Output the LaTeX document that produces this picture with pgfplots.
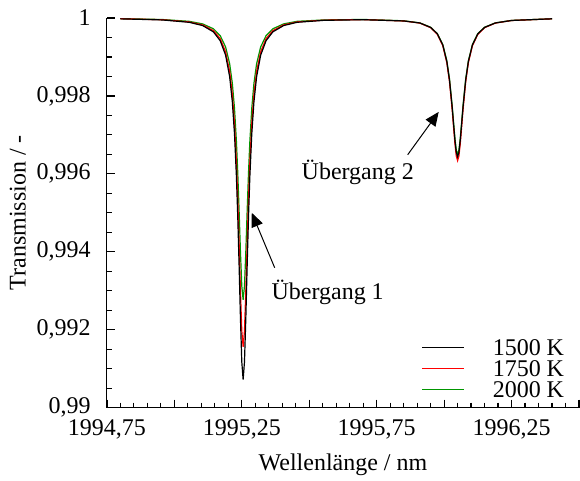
\documentclass[border=0pt]{standalone}
\usepackage{fontspec}
\setmainfont{Liberation Serif}
\usepackage{pgfplots}
\pgfplotsset{compat=1.18}
\usepackage{pgfplotstable}
\usetikzlibrary{arrows.meta}
\definecolor{cgreen}{RGB}{0,150,0}
\definecolor{cred}{RGB}{255,0,0}

\pgfplotstableread{
x b r g
1994.800 0.999978 0.999980 0.999983
1994.955 0.999950 0.999955 0.999961
1995.055 0.999889 0.999899 0.999914
1995.105 0.999805 0.999822 0.999848
1995.145 0.999643 0.999675 0.999722
1995.170 0.999417 0.999470 0.999546
1995.190 0.999046 0.999132 0.999257
1995.205 0.998495 0.998631 0.998827
1995.215 0.997845 0.998040 0.998321
1995.223 0.997022 0.997291 0.997680
1995.230 0.995950 0.996317 0.996845
1995.235 0.994919 0.995379 0.996041
1995.240 0.993665 0.994239 0.995065
1995.245 0.992309 0.993005 0.994008
1995.250 0.991176 0.991974 0.993125
1995.255 0.990720 0.991560 0.992770
1995.260 0.991176 0.991974 0.993125
1995.265 0.992309 0.993005 0.994008
1995.270 0.993665 0.994239 0.995065
1995.275 0.994919 0.995379 0.996041
1995.280 0.995950 0.996317 0.996845
1995.287 0.997022 0.997291 0.997680
1995.295 0.997845 0.998040 0.998321
1995.305 0.998495 0.998631 0.998827
1995.320 0.999046 0.999132 0.999257
1995.340 0.999417 0.999470 0.999546
1995.365 0.999643 0.999675 0.999722
1995.405 0.999805 0.999822 0.999848
1995.455 0.999889 0.999899 0.999914
1995.555 0.999940 0.999944 0.999950
1995.700 0.999956 0.999958 0.999962
1995.850 0.999924 0.999923 0.999928
1995.910 0.999872 0.999869 0.999874
1995.950 0.999758 0.999751 0.999762
1995.975 0.999592 0.999580 0.999598
1995.995 0.999309 0.999289 0.999320
1996.010 0.998886 0.998854 0.998904
1996.020 0.998407 0.998362 0.998434
1996.030 0.997701 0.997637 0.997740
1996.035 0.997280 0.997203 0.997325
1996.040 0.996870 0.996782 0.996922
1996.045 0.996558 0.996461 0.996616
1996.050 0.996440 0.996340 0.996500
1996.055 0.996558 0.996461 0.996616
1996.060 0.996870 0.996782 0.996922
1996.065 0.997280 0.997203 0.997325
1996.070 0.997701 0.997637 0.997740
1996.080 0.998407 0.998362 0.998434
1996.090 0.998886 0.998854 0.998904
1996.105 0.999309 0.999289 0.999320
1996.125 0.999592 0.999580 0.999598
1996.150 0.999758 0.999751 0.999762
1996.190 0.999872 0.999869 0.999874
1996.250 0.999936 0.999935 0.999937
1996.400 0.999979 0.999978 0.999979
}\datatable

\begin{document}
\begin{tikzpicture}
\begin{axis}[
  scale only axis, width=236.25pt, height=195pt,
  xmin=1994.75, xmax=1996.5, ymin=0.99, ymax=1,
  axis x line*=bottom, axis y line*=left,
  axis line style={line width=0.5pt, black},
  xtick={1994.75,1995,1995.25,1995.5,1995.75,1996,1996.25,1996.5},
  xticklabels={{1994,75},{},{1995,25},{},{1995,75},{},{1996,25},{}},
  minor x tick num=4,
  ytick={0.99,0.992,0.994,0.996,0.998,1},
  minor y tick num=3,
  tick align=outside,
  major tick length=-4pt, minor tick length=-2.5pt,
  tick style={line width=0.6pt, black},
  /pgf/number format/use comma,
  /pgf/number format/fixed,
  /pgf/number format/precision=3,
  /pgf/number format/1000 sep={},
  /pgf/number format/assume math mode=true,
  tick label style={font=\fontsize{12}{14}\selectfont},
  yticklabel style={inner sep=0pt, xshift=-12pt},
  xticklabel style={inner sep=0pt, yshift=-10pt},
  label style={font=\fontsize{12}{14}\selectfont},
  xlabel={Wellenlänge / nm},
  ylabel={Transmission / -},
  xlabel style={at={(axis description cs:0.5,-0.1615)}, anchor=base, inner sep=0pt},
  ylabel style={at={(axis description cs:-0.172,0.5)}, anchor=base, inner sep=0pt},
  clip=false,
  legend style={at={(0.9735,0.0205)}, anchor=south east, draw=none, fill=none,
    inner xsep=0pt, inner ysep=0pt, row sep=0.4pt, column sep=13pt,
    nodes={inner sep=1pt, text depth=0pt},
    font=\fontsize{12}{14}\selectfont},
  legend cell align=left,
  reverse legend,
  legend image code/.code={\draw[#1] (0pt,0pt) -- (21pt,0pt);},
]
\coordinate (sw) at (rel axis cs:0,0);
\addplot[cgreen, line width=0.6pt] table[x=x, y=g] {\datatable};
\addlegendentry{2000 K}
\addplot[cred, line width=0.6pt] table[x=x, y=r] {\datatable};
\addlegendentry{1750 K}
\addplot[black, line width=0.6pt] table[x=x, y=b] {\datatable};
\addlegendentry{1500 K}
\draw[-{Triangle[length=7pt,width=6pt]}, line width=0.5pt] (axis cs:1995.372,0.99359) -- (axis cs:1995.287,0.9950);
\draw[-{Triangle[length=7pt,width=6pt]}, line width=0.5pt] (axis cs:1995.865,0.99649) -- (axis cs:1995.98,0.99759);
\node[font=\fontsize{12}{14}\selectfont] at (axis cs:1995.5685,0.99295) {Übergang 1};
\node[font=\fontsize{12}{14}\selectfont] at (axis cs:1995.68,0.99605) {Übergang 2};
\end{axis}
\path ([shift={(-53.5pt,-36.5pt)}]sw) rectangle ++(290pt,240.5pt);
\end{tikzpicture}
\end{document}
